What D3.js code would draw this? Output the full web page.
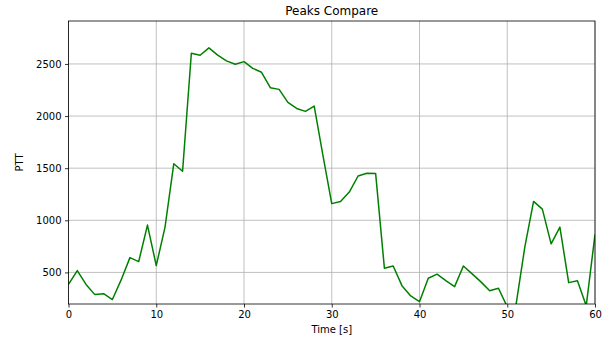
<!DOCTYPE html>
<html>
<head>
<meta charset="utf-8">
<script src="https://cdn.jsdelivr.net/npm/d3@7"></script>
<style>
  html, body { margin: 0; padding: 0; background: #fff; }
  svg { display: block; font-family: "DejaVu Sans", sans-serif; }
</style>
</head>
<body>
<svg id="chart" width="614" height="340"></svg>
<script>
const times = d3.range(0, 61);
const ptt = [
  385, 517, 385, 287, 296, 240, 428, 642, 604, 954,
  565, 935, 1543, 1470, 2603, 2583, 2654, 2585, 2529, 2497,
  2522, 2458, 2420, 2272, 2256, 2131, 2073, 2045, 2096, 1620,
  1160, 1181, 1271, 1425, 1452, 1450, 540, 562, 373, 274,
  219, 444, 483, 421, 364, 562, 486, 409, 325, 348,
  170, 190, 742, 1181, 1107, 774, 935, 402, 421, 180,
  863
];
const xTicks = [0, 10, 20, 30, 40, 50, 60];
const yTicks = [500, 1000, 1500, 2000, 2500];
const xDomain = [0, 60];
const yDomain = [197, 2912];

const svg = d3.select("#chart");
const m = { left: 68.5, right: 595, top: 21, bottom: 304 };
const x = d3.scaleLinear().domain(xDomain).range([m.left, m.right]);
const y = d3.scaleLinear().domain(yDomain).range([m.bottom, m.top]);

// grid
const grid = svg.append("g");
grid.selectAll(".gx").data(xTicks).enter().append("line")
  .attr("x1", d => x(d)).attr("x2", d => x(d))
  .attr("y1", m.top).attr("y2", m.bottom)
  .attr("stroke", "#b0b0b0").attr("stroke-width", 0.8);
grid.selectAll(".gy").data(yTicks).enter().append("line")
  .attr("y1", d => y(d)).attr("y2", d => y(d))
  .attr("x1", m.left).attr("x2", m.right)
  .attr("stroke", "#b0b0b0").attr("stroke-width", 0.8);

// clip
svg.append("clipPath").attr("id", "clip").append("rect")
  .attr("x", m.left).attr("y", m.top)
  .attr("width", m.right - m.left).attr("height", m.bottom - m.top);

const line = d3.line().x((d, i) => x(times[i])).y(d => y(d));
svg.append("path").datum(ptt)
  .attr("clip-path", "url(#clip)")
  .attr("d", line)
  .attr("fill", "none")
  .attr("stroke", "green")
  .attr("stroke-width", 1.5)
  .attr("stroke-linejoin", "round");

// axes
const xAxis = d3.axisBottom(x).tickValues(xTicks).tickSize(3.5).tickPadding(3.5).tickFormat(d3.format("d"));
const yAxis = d3.axisLeft(y).tickValues(yTicks).tickSize(3.5).tickPadding(3.5).tickFormat(d3.format("d"));
const gx = svg.append("g").attr("transform", `translate(0,${m.bottom})`).call(xAxis);
const gy = svg.append("g").attr("transform", `translate(${m.left},0)`).call(yAxis);
[gx, gy].forEach(g => {
  g.select(".domain").remove();
  g.selectAll("text").attr("font-size", 10).attr("fill", "#000").attr("font-family", "DejaVu Sans");
  g.selectAll("line").attr("stroke", "#000").attr("stroke-width", 0.8);
});

// frame
svg.append("rect")
  .attr("x", m.left).attr("y", m.top)
  .attr("width", m.right - m.left).attr("height", m.bottom - m.top)
  .attr("fill", "none").attr("stroke", "#000").attr("stroke-width", 0.8);

// labels
svg.append("text").attr("x", (m.left + m.right) / 2).attr("y", 15)
  .attr("text-anchor", "middle").attr("font-size", 12).text("Peaks Compare");
svg.append("text").attr("x", (m.left + m.right) / 2).attr("y", 333)
  .attr("text-anchor", "middle").attr("font-size", 10).text("Time [s]");
svg.append("text").attr("transform", `translate(23,${(m.top + m.bottom) / 2}) rotate(-90)`)
  .attr("text-anchor", "middle").attr("font-size", 10).text("PTT");
</script>
</body>
</html>
